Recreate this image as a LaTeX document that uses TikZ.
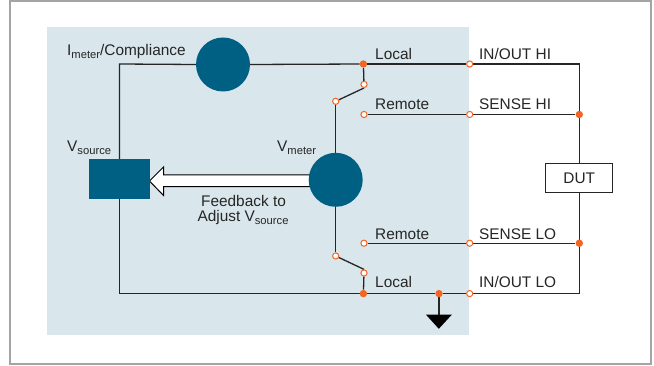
\documentclass[tikz,border=0pt]{standalone}
\usepackage{fontspec}
\setmainfont{Liberation Sans}
\usetikzlibrary{backgrounds}
\definecolor{panel}{HTML}{D9E6EC}
\definecolor{teal}{HTML}{006083}
\definecolor{dotc}{HTML}{F26522}
\definecolor{wirec}{HTML}{262626}
\definecolor{framec}{HTML}{A4A4A6}
\newcommand{\subt}[1]{\raisebox{-2.8pt}{\fontsize{11.2}{12}\selectfont #1}}
\tikzset{
  x=1pt,y=-1pt,
  wire/.style={draw=wirec,line width=1.3pt},
  meter/.style={circle,fill=teal,minimum size=54pt,inner sep=0pt},
  solid dot/.style={circle,fill=dotc,minimum size=7.4pt,inner sep=0pt},
  open dot/.style={circle,draw=dotc,fill=white,line width=1pt,minimum size=6.2pt,inner sep=0pt},
  lab/.style={font=\fontsize{15.4}{17}\selectfont,text=wirec,inner sep=0pt,anchor=base west},
}
\begin{document}
\begin{tikzpicture}
\useasboundingbox (0,0) rectangle (654,366);
% nodes
\node[meter] (imeter) at (223,64.5) {};
\node[meter] (vmeter) at (335.7,179.8) {};
\node[fill=teal,minimum width=61pt,minimum height=40pt,inner sep=0pt] (vsource) at (119.5,179) {};
\node[draw=wirec,line width=1.2pt,fill=white,minimum width=67pt,minimum height=29pt,inner sep=0pt,font=\fontsize{15.4}{17}\selectfont,text=wirec] (dut) at (579.3,178.3) {DUT};
\node[solid dot] (j1) at (363.4,64) {};
\node[solid dot] (j2) at (363.4,293.6) {};
\node[solid dot] (j3) at (439,293.6) {};
\node[solid dot] (j4) at (579.3,114.5) {};
\node[solid dot] (j5) at (579.3,243.2) {};
\node[open dot] (hi) at (469.7,64) {};
\node[open dot] (sh) at (469.7,114.5) {};
\node[open dot] (sl) at (469.7,243.2) {};
\node[open dot] (lo) at (469.7,293.6) {};
\node[open dot] (s1) at (364,84.4) {};
\node[open dot] (s2) at (335.7,101.3) {};
\node[open dot] (r1) at (364,114.5) {};
\node[open dot] (s3) at (335.7,256) {};
\node[open dot] (s4) at (364,273) {};
\node[open dot] (r2) at (364,243.2) {};
\coordinate (tl) at (119.5,64);
\coordinate (bl) at (119.5,293.6);
\coordinate (tr) at (579.3,64);
\coordinate (br) at (579.3,293.6);
\coordinate (gnd) at (439,315);
\begin{pgfonlayer}{background}
\fill[white] (0,0) rectangle (654,366);
\draw[framec,line width=1.4pt] (10,1) rectangle (651,364);
\fill[panel] (47,27) rectangle (469,335);
% wires
\draw[wire] (vsource.north) -- (tl) -- (imeter.west);
\draw[wire] (imeter.east) -- (j1);
\draw[wire] (j1) -- (hi);
\draw[wire] (hi) -- (tr) -- (dut.north);
\draw[wire] (dut.south) -- (br) -- (lo);
\draw[wire] (lo) -- (j3);
\draw[wire] (j3) -- (j2);
\draw[wire] (j2) -- (bl) -- (vsource.south);
\draw[wire] (j1) -- (s1);
\draw[wire] (s1.south) -- (s2);
\draw[wire] (s2) -- (vmeter.north);
\draw[wire] (vmeter.south) -- (s3);
\draw[wire] (s3) -- (s4.north);
\draw[wire] (s4) -- (j2);
\draw[wire] (r1) -- (sh);
\draw[wire] (sh) -- (j4);
\draw[wire] (r2) -- (sl);
\draw[wire] (sl) -- (j5);
\draw[wire] (j3) -- (gnd);
% ground
\fill[black] (426,314.7) -- (451.8,314.7) -- (438.8,328.8) -- cycle;
% feedback arrow
\draw[draw=black,fill=white,line width=1pt] (vmeter.center |- 0,175) -- (163.5,175) -- (163.5,167) -- (149.5,181) -- (163.5,195.5) -- (163.5,186.7) -- (vmeter.center |- 0,186.7);
\end{pgfonlayer}
% labels
\node[lab] (lim) at (67,56) {I\subt{meter}/Compliance};
\node[lab] (lvs) at (67,152) {V\subt{source}};
\node[lab] (lvm) at (277,152) {V\subt{meter}};
\node[lab] (l1) at (375,60) {Local};
\node[lab] (l2) at (375,110) {Remote};
\node[lab] (l3) at (375,239.5) {Remote};
\node[lab] (l4) at (375,288) {Local};
\node[lab] (l5) at (479,60) {IN/OUT HI};
\node[lab] (l6) at (479,110) {SENSE HI};
\node[lab] (l7) at (479,239.5) {SENSE LO};
\node[lab] (l8) at (479,288) {IN/OUT LO};
\node[lab,anchor=base] (f1) at (243.5,207) {Feedback to};
\node[lab,anchor=base] (f2) at (243,222) {Adjust V\subt{source}};
\end{tikzpicture}
\end{document}
